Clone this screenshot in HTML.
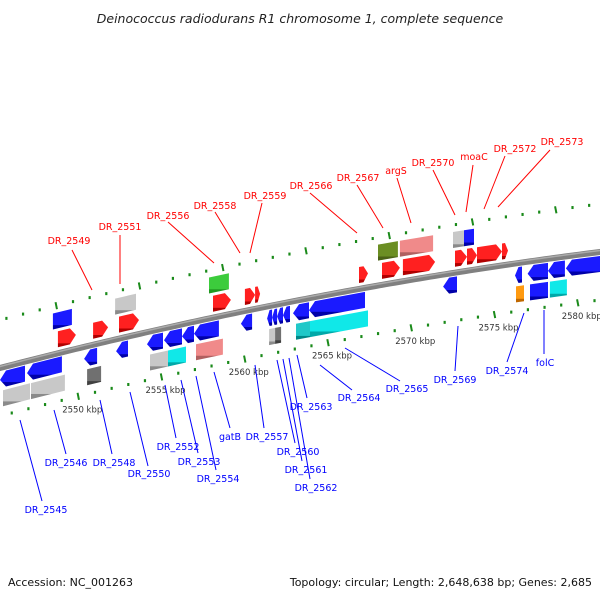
<!DOCTYPE html>
<html><head><meta charset="utf-8"><style>
html,body{margin:0;padding:0;background:#fff;}
svg{display:block;}
text{font-family:"DejaVu Sans","Liberation Sans",sans-serif;}
</style></head><body>
<svg id="c" width="600" height="600" viewBox="0 0 600 600" xmlns="http://www.w3.org/2000/svg">
<text x="300" y="23" text-anchor="middle" font-size="12.5" font-style="italic" fill="#222">Deinococcus radiodurans R1 chromosome 1, complete sequence</text>
<text x="8" y="586" font-size="11" fill="#111">Accession: NC_001263</text>
<text x="592" y="586" font-size="11" fill="#111" text-anchor="end">Topology: circular; Length: 2,648,638 bp; Genes: 2,685</text>
<defs id="defs"></defs>
<g id="g"></g>
</svg>
<script>
const geneStart=[2548.78,2550.89,2552.45,2558.09,2560.01,2560.62,2566.86,2568.24,2569.50,2572.63,2573.35,2573.95,2575.45,
2548.48,2552.21,2557.85,2568.0,2569.32,2572.51,2573.17,
2545.3,2546.92,2550.35,2552.27,2554.13,2555.15,2556.23,2556.95,2559.77,2561.34,2561.64,2561.94,2562.30,2562.90,2563.86,2571.91,2576.23,2576.99,2578.21,2579.29,
2545.48,2547.16,2550.53,2554.31,2555.39,2557.07,2561.46,2561.82,2563.08,2563.92,2576.29,2577.13,2578.33];
const geneEnd=[2549.86,2551.79,2553.65,2559.17,2560.62,2560.92,2567.40,2569.32,2571.43,2573.35,2573.95,2575.45,2575.81,
2549.62,2553.47,2559.05,2569.2,2571.31,2573.17,2573.77,
2546.8,2549.02,2551.13,2552.99,2555.09,2556.23,2556.95,2558.45,2560.44,2561.64,2561.94,2562.30,2562.72,2563.86,2567.22,2572.75,2576.65,2578.21,2579.23,2581.34,
2547.10,2549.2,2551.37,2555.39,2556.47,2558.69,2561.82,2562.18,2563.92,2567.40,2576.77,2578.21,2579.35];
const geneLane=["u1","u1","u1","u1","u1","u1","u1","u1","u1","u1","u1","u1","u1",
"u2","u2","u2","u2","u2","u2","u2",
"l1","l1","l1","l1","l1","l1","l1","l1","l1","l1","l1","l1","l1","l1","l1","l1","l1","l1","l1","l1",
"l2","l2","l2","l2","l2","l2","l2","l2","l2","l2","l2","l2","l2"];
const geneColor=["red","red","red","red","red","red","red","red","red","red","red","red","red",
"blue","grey","green","olive","pink","grey","blue",
"blue","blue","blue","blue","blue","blue","blue","blue","blue","blue","blue","blue","blue","blue","blue","blue","blue","blue","blue","blue",
"grey","grey","dgrey","grey","cyan","pink","grey","dgrey","dcyan","cyan","orange","blue","cyan"];
const geneDir=[1,1,1,1,1,1,1,1,1,1,1,1,1, 0,0,0,0,0,0,0,
-1,-1,-1,-1,-1,-1,-1,-1,-1,-1,-1,-1,-1,-1,-1,-1,-1,-1,-1,-1,
0,0,0,0,0,0,0,0,0,0,0,0,0];
const tickKbp=[2546,2547,2548,2549,2550,2551,2552,2553,2554,2555,2556,2557,2558,2559,2560,2561,2562,2563,2564,2565,2566,2567,2568,2569,2570,2571,2572,2573,2574,2575,2576,2577,2578,2579,2580,2581];
const upperTickKbp=[2545,2546,2547,2548,2549,2550,2551,2552,2553,2554,2555,2556,2557,2558,2559,2560,2561,2562,2563,2564,2565,2566,2567,2568,2569,2570,2571,2572,2573,2574,2575,2576,2577,2578,2579,2580,2581,2582];
const kbpLabels=["2550 kbp","2555 kbp","2560 kbp","2565 kbp","2570 kbp","2575 kbp","2580 kbp"];
const kbpLabelVals=[2550,2555,2560,2565,2570,2575,2580];
const topLabels=["DR_2549","DR_2551","DR_2556","DR_2558","DR_2559","DR_2566","DR_2567","argS","DR_2570","moaC","DR_2572","DR_2573"];
const botLabels=["DR_2545","DR_2546","DR_2548","DR_2550","DR_2552","DR_2553","DR_2554","gatB","DR_2557","DR_2560","DR_2561","DR_2562","DR_2563","DR_2564","DR_2565","DR_2569","DR_2574","folC"];

const topPos=[[69,244,72,250,92,290],[120,230,120,235,120,284],[168,219,168,222,214,263],[215,209,215,212,240,253],[265,199,262,203,250,253],[311,189,310,193,357,233],[358,181,357,185,383,228],[396,174,397,178,411,223],[433,166,433,170,455,215],[474,160,473,165,466,212],[515,152,505,156,484,209],[562,145,550,150,498,207]];
const botPos=[[46,513,42,501,20,420],[66,466,66,454,54,410],[114,466,112,454,100,400],[149,477,148,466,130,392],[178,450,176,438,165,385],[199,465,198,453,181,380],[218,482,216,470,196,376],[230,440,230,428,214,372],[267,440,264,428,255,365],[298,455,295,443,277,360],[306,473,302,461,283,359],[316,491,310,479,289,358],[311,410,307,398,297,355],[359,401,352,390,320,365],[407,392,400,381,345,348],[455,383,455,371,458,326],[507,374,507,362,524,313],[545,366,544,354,544,310]];

const NS="http://www.w3.org/2000/svg";
const g=document.getElementById('g'), defs=document.getElementById('defs');
function xs(k){return (k-2545.3)*16.65;}
function ay(x){return 368-0.26*x+0.000111*x*x;}
const laneOff={u1:-14,u2:-33,l1:12,l2:31};
const pal={red:["#ff2020","#b00000"],blue:["#1a1aff","#0000a8"],grey:["#c8c8c8","#8a8a8a"],dgrey:["#707070","#404040"],green:["#3ccc3c","#229922"],olive:["#6b8e23","#4a6216"],pink:["#f08a8a","#b06060"],cyan:["#10e8e8","#00a8a8"],dcyan:["#20c8c8","#008888"],orange:["#ff9a10","#c06800"]};
function mk(t,a){const e=document.createElementNS(NS,t);for(const k in a)e.setAttribute(k,a[k]);return e;}
for(const c in pal){
  const lg=mk('linearGradient',{id:'gr-'+c,x1:0,y1:0,x2:0,y2:1});
  lg.appendChild(mk('stop',{offset:'0',"stop-color":pal[c][0]}));
  lg.appendChild(mk('stop',{offset:'0.78',"stop-color":pal[c][0]}));
  lg.appendChild(mk('stop',{offset:'0.8',"stop-color":pal[c][1]}));
  lg.appendChild(mk('stop',{offset:'1',"stop-color":pal[c][1]}));
  defs.appendChild(lg);
}
let d="";
for(let x=-5;x<=605;x+=5){d+=(x<0?"M":"L")+x+","+ay(x).toFixed(2);}
const band=mk('path',{d:d,fill:'none',stroke:'#808080','stroke-width':6});


g.appendChild(band);
const hl=mk('path',{d:d,fill:'none',stroke:'#aaaaaa','stroke-width':1.5,transform:'translate(0,-1.5)'});


g.appendChild(hl);
function tick(x,off,major,nm){
  const y=ay(x)+off;
  let e;
  if(major){e=mk('line',{x1:x-0.7,y1:y-3.5,x2:x+0.7,y2:y+3.5,stroke:'#1a8a1a','stroke-width':2});}
  else{e=mk('rect',{x:x-1,y:y-1.5,width:2.2,height:3,fill:'#1a8a1a'});}
  
  
  g.appendChild(e);
}
tickKbp.forEach(k=>{tick(xs(k),48,k%5===0,'lower-tick');});
upperTickKbp.forEach(k=>{const x=xs(k)-22; if(x>0&&x<600) tick(x,-48,k%5===0,'upper-tick');});
kbpLabelVals.forEach((k,i)=>{
  const x=xs(k)+4, y=ay(xs(k))+64;
  const t=mk('text',{x:x,y:y,'font-size':8.5,fill:'#333','text-anchor':'middle'});
  t.textContent=kbpLabels[i];
  
  
  g.appendChild(t);
});
const H=16;
for(let i=0;i<geneStart.length;i++){
  const x0=xs(geneStart[i]), x1=xs(geneEnd[i]);
  const off=laneOff[geneLane[i]];
  const c0=ay(x0)+off, c1=ay(x1)+off;
  const cy=x=>c0+(c1-c0)*(x-x0)/((x1-x0)||1);
  const h=H/2, tl=Math.min(6,(x1-x0)/2);
  let pts;
  if(geneDir[i]===1){const xt=x1-tl;pts=[[x0,c0-h],[xt,cy(xt)-h],[x1,c1],[xt,cy(xt)+h],[x0,c0+h]];}
  else if(geneDir[i]===-1){const xt=x0+tl;pts=[[x0,c0],[xt,cy(xt)-h],[x1,c1-h],[x1,c1+h],[xt,cy(xt)+h]];}
  else{pts=[[x0,c0-h],[x1,c1-h],[x1,c1+h],[x0,c0+h]];}
  const p=mk('polygon',{points:pts.map(q=>q[0].toFixed(1)+","+q[1].toFixed(1)).join(" "),fill:'url(#gr-'+geneColor[i]+')'});
  
  
  g.appendChild(p);
}
function lab(txt,pos,col,nm){
  const l=mk('line',{x1:pos[2],y1:pos[3],x2:pos[4],y2:pos[5],stroke:col,'stroke-width':1});
  
  
  g.appendChild(l);
  const t=mk('text',{x:pos[0],y:pos[1],'font-size':9.5,fill:col,'text-anchor':'middle'});
  t.textContent=txt;
  
  
  g.appendChild(t);
}
topLabels.forEach((s,i)=>lab(s,topPos[i],'#ff0000','forward-gene-label'));
botLabels.forEach((s,i)=>lab(s,botPos[i],'#0000ff','reverse-gene-label'));
</script>
</body></html>
